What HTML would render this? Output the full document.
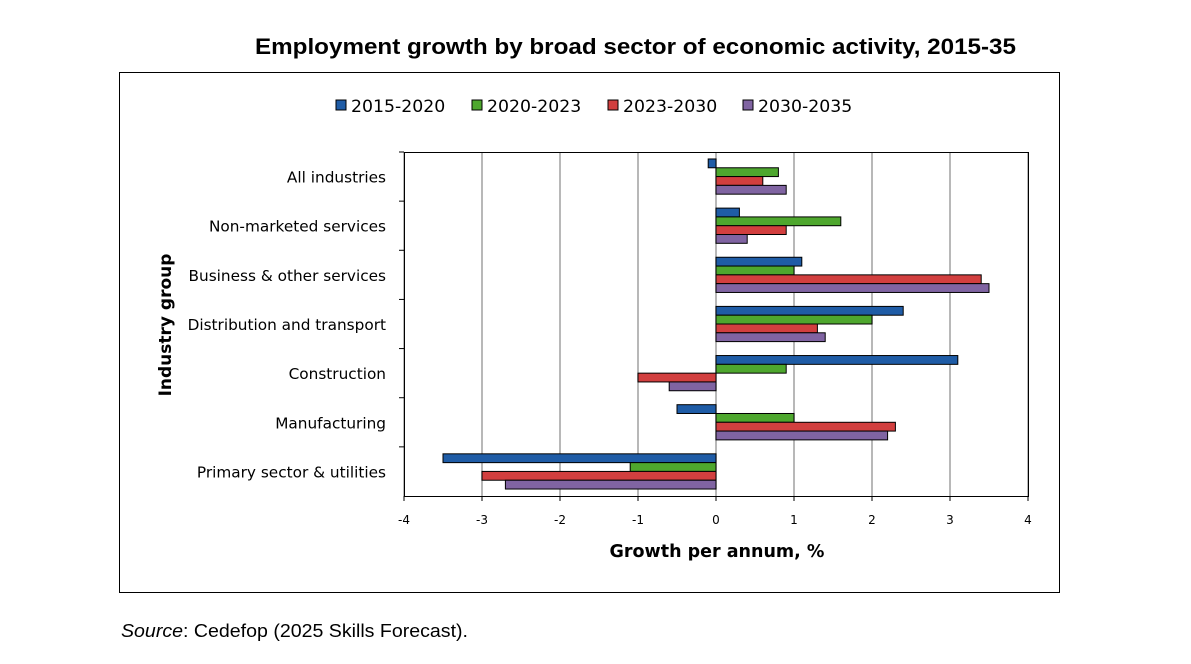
<!DOCTYPE html>
<html><head><meta charset="utf-8"><style>
body{margin:0;background:#fff;width:1191px;height:659px;overflow:hidden;font-family:"Liberation Sans",sans-serif}
</style></head><body>
<svg id="c" width="1191" height="659" xmlns="http://www.w3.org/2000/svg">
<text x="255" y="54" textLength="761" lengthAdjust="spacingAndGlyphs" font-family="Liberation Sans" font-weight="bold" font-size="22">Employment growth by broad sector of economic activity, 2015-35</text>
<rect x="119.5" y="72.5" width="940" height="520" fill="none" stroke="#000" stroke-width="1"/>
<g id="grid"></g><g id="bars"></g><g id="axes"></g><g id="legend"></g>
<text x="0" y="0" transform="translate(171,325) rotate(-90)" text-anchor="middle" font-family="DejaVu Sans" font-weight="bold" font-size="17">Industry group</text>
<text x="717" y="557" text-anchor="middle" font-family="DejaVu Sans" font-weight="bold" font-size="17.5">Growth per annum, %</text>
<text x="121" y="637" textLength="347" lengthAdjust="spacingAndGlyphs" font-family="Liberation Sans" font-size="18"><tspan font-style="italic">Source</tspan>: Cedefop (2025 Skills Forecast).</text>
</svg>
<script>
const categories=["All industries","Non-marketed services","Business & other services","Distribution and transport","Construction","Manufacturing","Primary sector & utilities"];
const seriesNames=["2015-2020","2020-2023","2023-2030","2030-2035"];
const s2015=[-0.1,0.3,1.1,2.4,3.1,-0.5,-3.5];
const s2020=[0.8,1.6,1.0,2.0,0.9,1.0,-1.1];
const s2023=[0.6,0.9,3.4,1.3,-1.0,2.3,-3.0];
const s2030=[0.9,0.4,3.5,1.4,-0.6,2.2,-2.7];
const xTicks=[-4,-3,-2,-1,0,1,2,3,4];
const colors=["#1f5ca6","#4ea72e","#d23f3f","#8064a2"];
const series=[s2015,s2020,s2023,s2030];
const NS="http://www.w3.org/2000/svg";
const L=404,R=1028,T=152,B=496,xmin=-4,xmax=4;
const x=v=>L+(v-xmin)/(xmax-xmin)*(R-L);
const band=(B-T)/categories.length;
function mk(t,a,p){const e=document.createElementNS(NS,t);for(const k in a)e.setAttribute(k,a[k]);p.appendChild(e);return e;}
const grid=document.getElementById('grid'),bars=document.getElementById('bars'),axes=document.getElementById('axes'),leg=document.getElementById('legend');
xTicks.forEach(t=>{
 const g=mk('line',{x1:x(t),x2:x(t),y1:T,y2:B,stroke:"#a0a0a0","stroke-width":1.5},grid);
 
 
 const tk=mk('line',{x1:x(t),x2:x(t),y1:B,y2:B+5,stroke:"#000"},axes);
 
 
 const tx=mk('text',{x:x(t),y:B+28,"text-anchor":"middle","font-family":"DejaVu Sans","font-size":12},axes);
 tx.textContent=t;
 
 
});
const pr=mk('rect',{x:L+0.5,y:T+0.5,width:R-L,height:B-T,fill:"none",stroke:"#000"},axes);


const bh=8.8;
categories.forEach((c,i)=>{
 const y0=T+i*band;
 const tk=mk('line',{x1:L-5,x2:L,y1:y0,y2:y0,stroke:"#000"},axes);
 
 
 const tx=mk('text',{x:386,y:y0+band/2+6,"text-anchor":"end","font-family":"DejaVu Sans","font-size":15.3},axes);
 tx.textContent=c;
 
 
 series.forEach((s,j)=>{
  const v=s[i],x1=Math.min(x(0),x(v)),w=Math.abs(x(v)-x(0));
  const r=mk('rect',{x:x1,y:y0+band/2-2*bh+j*bh,width:w,height:bh,fill:colors[j],stroke:"#000","stroke-width":1},bars);
  
  
 });
});
const lx=[336,472,608,743];
seriesNames.forEach((n,j)=>{
 const r=mk('rect',{x:lx[j],y:100,width:10,height:10,fill:colors[j],stroke:"#000"},leg);
 
 
 const t=mk('text',{x:lx[j]+15,y:112,"font-family":"DejaVu Sans","font-size":17.3},leg);
 t.textContent=n;
 
 
});
</script>
</body></html>
